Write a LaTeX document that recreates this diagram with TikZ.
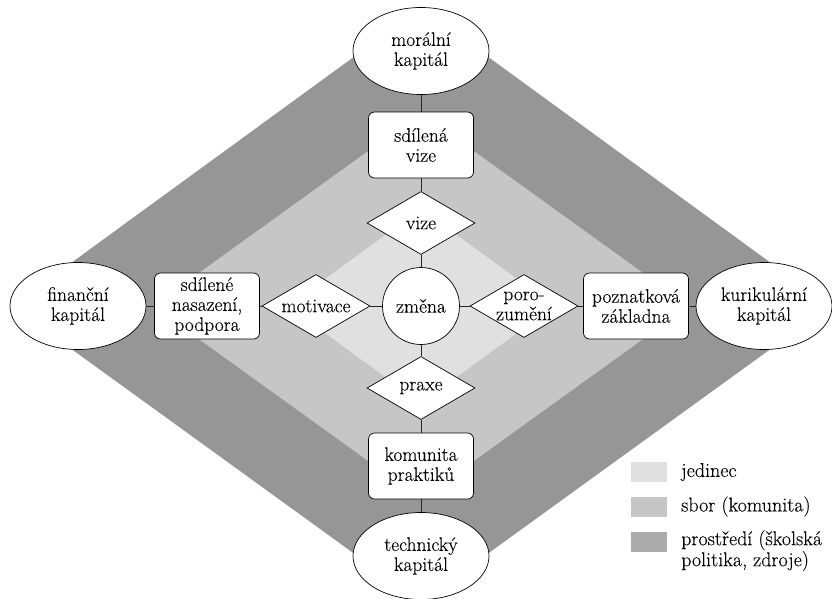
\documentclass[tikz,border=0pt]{standalone}
\usepackage{fontspec}
\setmainfont{Latin Modern Roman}[FakeBold=0.15]
\usetikzlibrary{shapes.geometric}
\definecolor{bandlight}{HTML}{E0E0E0}
\definecolor{bandmid}{HTML}{C6C6C6}
\definecolor{banddark}{HTML}{969696}
\definecolor{legdark}{HTML}{ABABAB}
\begin{document}
\begin{tikzpicture}[x=1pt,y=-1pt,
  font=\fontsize{19.5}{20}\selectfont,
  shp/.style={draw=black, line width=0.7pt, fill=white, align=center, text=black},
  ell/.style={shp, ellipse, minimum width=136pt, minimum height=87pt, inner sep=0pt},
  box/.style={shp, rectangle, rounded corners=6pt, minimum width=105pt, minimum height=66pt, inner sep=1pt},
  dia/.style={shp, diamond, aspect=1.714, minimum width=108pt, minimum height=63pt, inner sep=0pt},
  circ/.style={shp, circle, minimum size=77pt, inner sep=0pt},
  conn/.style={draw=black!85, line width=0.8pt},
  swatch/.style={rectangle, minimum width=36pt, minimum height=20pt, inner sep=0pt},
  legtext/.style={anchor=west, inner sep=0pt, align=left, text=black, font=\fontsize{20}{21}\selectfont}
]
\useasboundingbox (0,0) rectangle (832,598);
% bands
\fill[banddark] (421,8) -- (830,306) -- (421,602) -- (12,306) -- cycle;
\fill[bandmid] (421,113) -- (689,306) -- (421,499) -- (153,306) -- cycle;
\fill[bandlight] (421,209) -- (554,306) -- (421,403) -- (288,306) -- cycle;
% nodes
\node[ell] (mor) at (421,51) {morální\\kapitál};
\node[box] (sv) at (421,145) {sdílená\\vize};
\node[dia] (vize) at (421,223) {vize};
\node[circ] (zm) at (421,306) {změna};
\node[dia] (praxe) at (421,388) {praxe};
\node[box] (kp) at (421,466) {komunita\\praktiků};
\node[ell] (tech) at (421,556) {technický\\kapitál};
\node[ell] (fin) at (78,306) {finanční\\kapitál};
\node[box] (sn) at (207,306) {sdílené\\nasazení,\\podpora};
\node[dia] (mot) at (316,306) {motivace};
\node[dia, inner sep=-6pt] (por) at (524,306) {poro-\\zumění};
\node[box] (pz) at (636,306) {poznatková\\základna};
\node[ell] (kur) at (764,306) {kurikulární\\kapitál};
% connectors
\draw[conn] (mor) -- (sv);
\draw[conn] (sv) -- (vize);
\draw[conn] (vize) -- (zm);
\draw[conn] (zm) -- (praxe);
\draw[conn] (praxe) -- (kp);
\draw[conn] (kp) -- (tech);
\draw[conn] (fin) -- (sn);
\draw[conn] (sn) -- (mot);
\draw[conn] (mot) -- (zm);
\draw[conn] (zm) -- (por);
\draw[conn] (por) -- (pz);
\draw[conn] (pz) -- (kur);
% legend
\node[swatch, fill=bandlight] (s1) at (649,472) {};
\node[swatch, fill=bandmid] (s2) at (649,506.5) {};
\node[swatch, fill=legdark] (s3) at (649,541.5) {};
\node[legtext] (t1) at (681,472) {jedinec};
\node[legtext] (t2) at (681,506.5) {sbor (komunita)};
\node[legtext, anchor=north west] (t3) at (681,530) {prostředí (školská\\politika, zdroje)};
\end{tikzpicture}
\end{document}
